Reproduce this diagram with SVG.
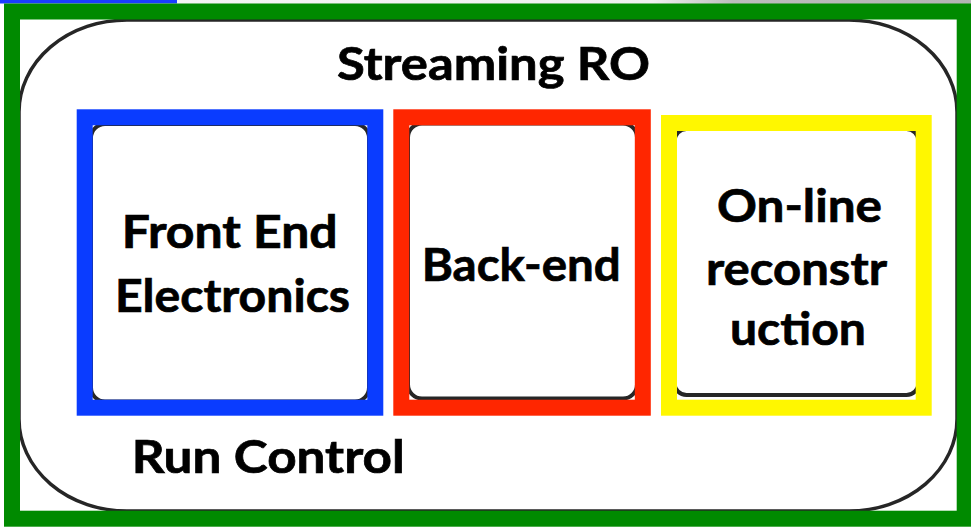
<svg xmlns="http://www.w3.org/2000/svg" width="971" height="527" viewBox="0 0 971 527">
  <defs>
    <linearGradient id="topbar" x1="0" y1="0" x2="1" y2="0">
      <stop offset="0" stop-color="#f4f4f4"/>
      <stop offset="0.6" stop-color="#f0f0f0"/>
      <stop offset="0.7" stop-color="#bdbdbd"/>
      <stop offset="1" stop-color="#b4b4b4"/>
    </linearGradient>
  </defs>
  <style>
    .lbl { font-family: "Lato", "Liberation Sans", sans-serif; font-weight: 700; font-size: 46px; fill: #000; stroke: #000; stroke-width: 0.7px; }
    .inner { fill: #fff; stroke: #262626; stroke-width: 4; }
    .frame { fill: none; stroke-width: 16; }
  </style>

  <!-- page background and top strip -->
  <rect x="0" y="0" width="971" height="527" fill="#fff"/>
  <rect x="177" y="0" width="794" height="4" fill="url(#topbar)"/>
  <rect x="0" y="0" width="177" height="3.5" fill="#1a3cff"/>

  <!-- Streaming RO container -->
  <g id="streaming-ro">
    <rect x="19" y="20" width="938" height="491" rx="108" ry="92" fill="#fff" stroke="#262626" stroke-width="3.5"/>
    <rect class="frame" x="12" y="11.5" width="952.7" height="507.2" stroke="#008a00"/>
    <text class="lbl" x="337" y="80" textLength="313" lengthAdjust="spacingAndGlyphs">Streaming RO</text>
  </g>

  <!-- Front End Electronics -->
  <g id="front-end">
    <rect class="inner" x="91" y="124" width="278" height="277.5" rx="14"/>
    <rect class="frame" x="84.7" y="117.3" width="290.6" height="290.4" stroke="#0a3cff"/>
    <text class="lbl" x="121.7" y="248.3" textLength="216" lengthAdjust="spacingAndGlyphs">Front End</text>
    <text class="lbl" x="115" y="311.7" textLength="235" lengthAdjust="spacingAndGlyphs">Electronics</text>
  </g>

  <!-- Back-end -->
  <g id="back-end">
    <rect class="inner" x="408" y="123.5" width="229" height="275" rx="14"/>
    <rect class="frame" x="401.3" y="117.3" width="241.5" height="290.4" stroke="#ff2600"/>
    <text class="lbl" x="421.7" y="281" textLength="199" lengthAdjust="spacingAndGlyphs">Back-end</text>
  </g>

  <!-- On-line reconstruction -->
  <g id="online-reco">
    <rect class="inner" x="674.5" y="129" width="244" height="266" rx="12" stroke-width="5"/>
    <rect class="frame" x="669" y="123" width="254.7" height="284.7" stroke="#fff700"/>
    <text class="lbl" x="717" y="222" textLength="165" lengthAdjust="spacingAndGlyphs">On-line</text>
    <text class="lbl" x="706" y="285" textLength="181" lengthAdjust="spacingAndGlyphs">reconstr</text>
    <text class="lbl" x="730" y="345" textLength="136" lengthAdjust="spacingAndGlyphs">uction</text>
  </g>

  <!-- Run Control label -->
  <g id="run-control">
    <text class="lbl" x="131.7" y="473.3" textLength="273" lengthAdjust="spacingAndGlyphs">Run Control</text>
  </g>
</svg>
